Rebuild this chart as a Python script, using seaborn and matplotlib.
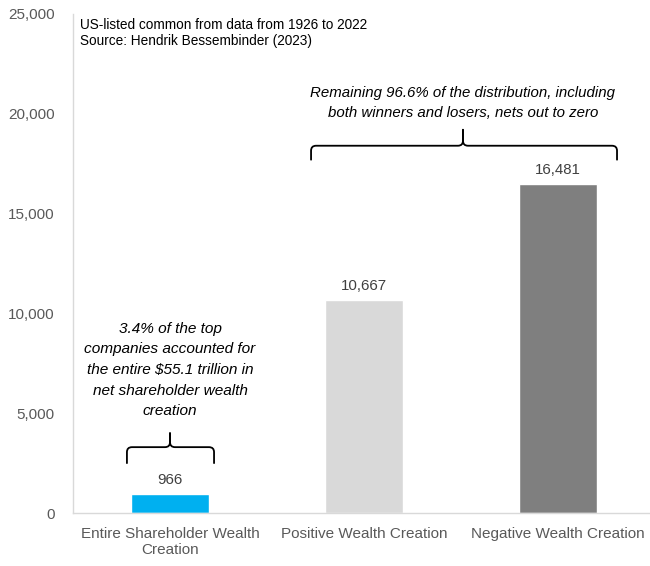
import matplotlib
matplotlib.use("Agg")
import matplotlib.pyplot as plt
from matplotlib.path import Path
from matplotlib.patches import PathPatch
import seaborn as sns
import pandas as pd

categories = ["Entire Shareholder Wealth\nCreation", "Positive Wealth Creation", "Negative Wealth Creation"]
values = [966, 10667, 16481]
bar_colors = ["#00B0F0", "#D9D9D9", "#7F7F7F"]
value_labels = ["966", "10,667", "16,481"]
y_ticks = [0, 5000, 10000, 15000, 20000, 25000]

sns.set_theme(style="white")
plt.rcParams["font.family"] = ["Liberation Sans", "DejaVu Sans"]

df = pd.DataFrame({"cat": categories, "val": values})
fig = plt.figure(figsize=(6.5, 5.66), dpi=100)
ax = fig.add_axes([0.1123, 0.0936, 0.8877, 0.8817])
sns.barplot(data=df, x="cat", y="val", hue="cat", palette=bar_colors, width=0.4,
            legend=False, ax=ax, saturation=1)

ax.set_xlim(-0.5, 2.474)
ax.set_ylim(0, 25000)
ax.set_yticks(y_ticks)
ax.set_yticklabels([f"{t:,}" for t in y_ticks])
ax.set_xlabel("")
ax.set_ylabel("")
ax.tick_params(axis="y", length=0, pad=13, labelsize=11, labelcolor="#595959")
ax.tick_params(axis="x", length=0, pad=10, labelsize=11, labelcolor="#595959")
for s in ["top", "right"]:
    ax.spines[s].set_visible(False)
for s in ["left", "bottom"]:
    ax.spines[s].set_color("#D9D9D9")
    ax.spines[s].set_linewidth(1)

for i, (v, lab) in enumerate(zip(values, value_labels)):
    ax.annotate(lab, (i, v), xytext=(0, 10), textcoords="offset points",
                ha="center", va="center", fontsize=10.8, color="#404040")

def brace(x0, x1, yb, yt, ytip, xm=None, rx=0.026, ry=250):
    if xm is None:
        xm = (x0 + x1) / 2
    codes = [Path.MOVETO, Path.LINETO, Path.CURVE3, Path.CURVE3,
             Path.LINETO, Path.CURVE3, Path.CURVE3, Path.LINETO]
    for xe, sgn in ((x0, 1), (x1, -1)):
        vv = [(xe, yb), (xe, yt - ry), (xe, yt), (xe + sgn * rx, yt),
              (xm - sgn * rx, yt), (xm, yt), (xm, yt + ry), (xm, ytip)]
        ax.add_patch(PathPatch(Path(vv, codes), fill=False, lw=1.3, color="black",
                               capstyle="round", joinstyle="round"))

brace(-0.222, 0.227, 2500, 3300, 4000, xm=0.0)
brace(0.727, 2.304, 17700, 18400, 19200, xm=1.51)

ax.text(0.0, 7164, "3.4% of the top\ncompanies accounted for\nthe entire $55.1 trillion in\nnet shareholder wealth\ncreation",
        ha="center", va="center", fontsize=11.1, style="italic", color="black", linespacing=1.6)
ax.text(1.51, 20541, "Remaining 96.6% of the distribution, including\nboth winners and losers, nets out to zero",
        ha="center", va="center", fontsize=10.8, style="italic", color="black", linespacing=1.5)

ax.text(0.012, 0.992, "US-listed common from data from 1926 to 2022\nSource: Hendrik Bessembinder (2023)",
        transform=ax.transAxes, ha="left", va="top", fontsize=9.8, color="black", linespacing=1.15)

fig.savefig("out.png", dpi=100)
